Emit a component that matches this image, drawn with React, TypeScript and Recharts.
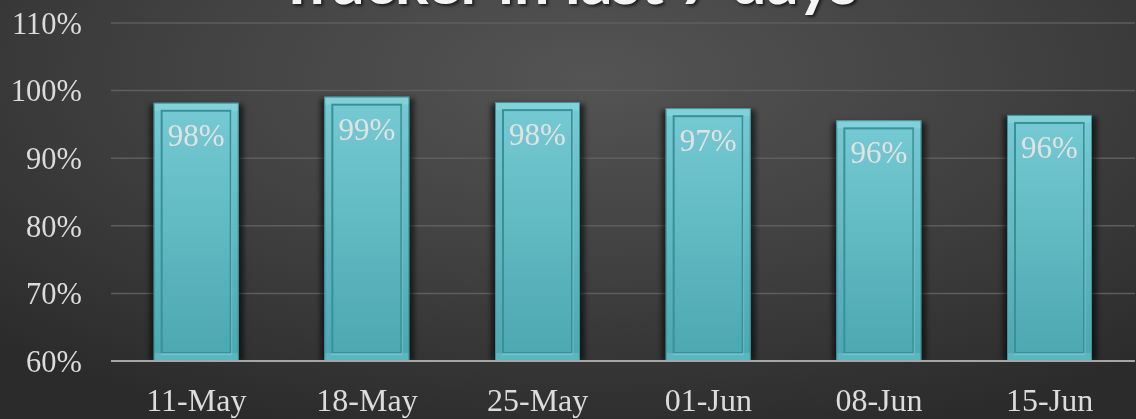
import { Bar, BarChart, CartesianGrid, LabelList, XAxis, YAxis } from "recharts";

const weeks = ["11-May", "18-May", "25-May", "01-Jun", "08-Jun", "15-Jun"];
const attendance = [0.982, 0.991, 0.983, 0.974, 0.956, 0.964];
const yTicks = [0.6, 0.7, 0.8, 0.9, 1.0, 1.1];

const data = weeks.map((week, i) => ({ week, rate: attendance[i] }));

const pct = (v: number) => `${Math.round(v * 100)}%`;

// Bevelled teal bar with a soft drop shadow, like the Office "frame" style.
function BevelBar(props: any) {
  const { x, y, width, height } = props;
  if (height <= 0) return null;
  const inset = 8;
  return (
    <g>
      <rect x={x - 4} y={y + 2} width={width + 9} height={height - 2} fill="#000" opacity={0.55} filter="url(#barShadow)" />
      <rect x={x} y={y} width={width} height={height} fill="url(#barFill)" />
      <rect x={x + 0.5} y={y + 0.5} width={width - 1} height={height - 1} fill="none" stroke="#3a9199" strokeWidth={1} />
      <rect x={x + 1} y={y + 1} width={width - 2} height={inset - 1} fill="#86d3db" opacity={0.75} />
      <rect x={x + 1} y={y + height - inset} width={width - 2} height={inset - 1} fill="#62bcc5" opacity={0.7} />
      <rect
        x={x + inset}
        y={y + inset}
        width={width - inset * 2}
        height={height - inset * 2}
        fill="none"
        stroke="#3b8f98"
        strokeWidth={2}
      />
      <line x1={x + inset - 1} y1={y + height - inset + 1} x2={x + width - inset + 1} y2={y + height - inset + 1} stroke="#8ad6de" strokeWidth={1} />
      <line x1={x + width - inset + 1} y1={y + inset - 1} x2={x + width - inset + 1} y2={y + height - inset + 1} stroke="#8ad6de" strokeWidth={1} opacity={0.6} />
    </g>
  );
}

export default function App() {
  return (
    <div
      style={{
        position: "fixed",
        left: 0,
        top: 0,
        width: 1136,
        height: 419,
        overflow: "hidden",
        background: "radial-gradient(ellipse 75% 90% at 52% 18%, #545454 0%, #434343 45%, #2b2b2b 100%)",
      }}
    >
      <div
        style={{
          position: "absolute",
          left: 0,
          width: 1136,
          top: -57,
          textAlign: "center",
          fontFamily: "Lato, 'Open Sans', sans-serif",
          fontWeight: 700,
          fontSize: 63,
          lineHeight: "74px",
          color: "#f4f4f4",
          textShadow: "2px 2px 3px rgba(0,0,0,0.6)",
        }}
      >
        Tracker in last 7 days
      </div>
      <BarChart
        width={1136}
        height={419}
        data={data}
        margin={{ top: 23, right: 1, bottom: 0, left: 0 }}
        barCategoryGap="25%"
        style={{ position: "absolute", left: 0, top: 0 }}
      >
        <defs>
          <linearGradient id="barFill" x1="0" y1="0" x2="0" y2="1">
            <stop offset="0%" stopColor="#76cad3" />
            <stop offset="100%" stopColor="#4ba7b0" />
          </linearGradient>
          <filter id="barShadow" x="-20%" y="-5%" width="140%" height="110%">
            <feGaussianBlur stdDeviation="2.5" />
          </filter>
        </defs>
        <CartesianGrid vertical={false} stroke="#5e5e5e" strokeWidth={1.5} />
        <XAxis
          dataKey="week"
          height={58}
          tickLine={false}
          axisLine={{ stroke: "#a6a6a6", strokeWidth: 2 }}
          tickMargin={21}
          tick={{ fill: "#dcdcdc", fontSize: 32, fontFamily: "'Liberation Serif', serif" }}
          interval={0}
        />
        <YAxis
          width={111}
          domain={[0.6, 1.1]}
          ticks={yTicks}
          tickFormatter={pct}
          axisLine={false}
          tickLine={false}
          tickMargin={23}
          allowDataOverflow
          tick={{ fill: "#dcdcdc", fontSize: 30.5, fontFamily: "'Liberation Serif', serif" }}
        />
        <Bar dataKey="rate" shape={BevelBar} isAnimationActive={false}>
          <LabelList
            dataKey="rate"
            position="insideTop"
            offset={21}
            formatter={(v: any) => pct(Number(v))}
            fill="#e2e2e2"
            fontSize={31}
            fontFamily="'Liberation Serif', serif"
          />
        </Bar>
      </BarChart>
    </div>
  );
}
